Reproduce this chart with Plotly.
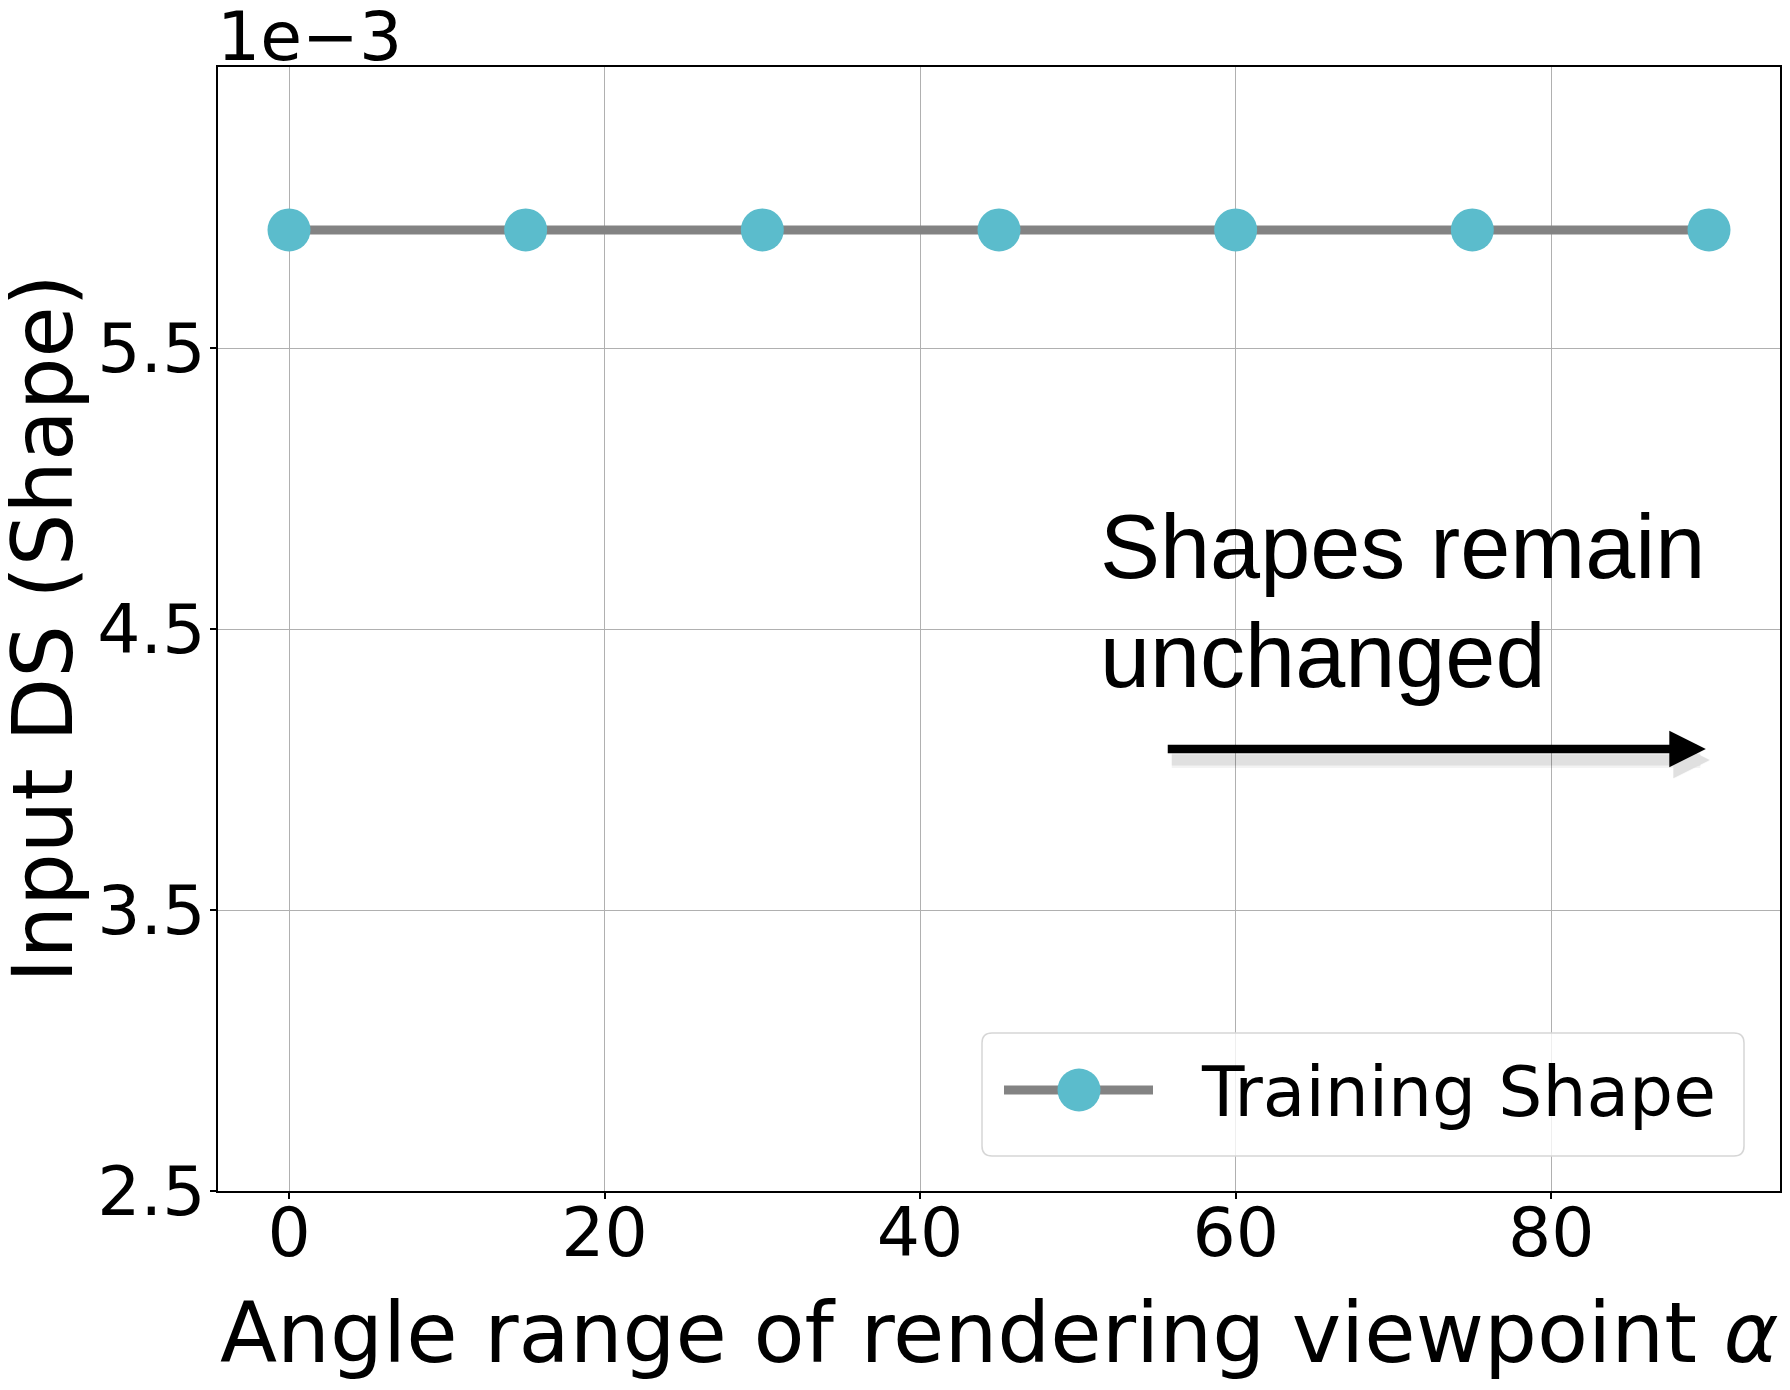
import plotly.graph_objects as go

# data
angles = [0, 15, 30, 45, 60, 75, 90]
input_ds = [0.00592, 0.00592, 0.00592, 0.00592, 0.00592, 0.00592, 0.00592]
series_name = 'Training Shape'

x_ticks = [0, 20, 40, 60, 80]
y_ticks = [0.0025, 0.0035, 0.0045, 0.0055]
y_tick_text = ['2.5', '3.5', '4.5', '5.5']
y_offset_text = '1e\u22123'

note_lines = ['Shapes remain', 'unchanged']
arrow_from = (55.6, 0.004073)
arrow_to = (89.8, 0.004073)

LINE_COLOR = '#838383'
MARKER_COLOR = '#5bbccc'
FONT = 'DejaVu Sans'

# the page body adds an 8px margin, so the figure is 8px smaller
PAGE_OFF = 8
W, H = 1790 - PAGE_OFF, 1390 - PAGE_OFF
# plot area in page pixels
X0, X1, Y0, Y1 = 218, 1780, 67, 1191
PW, PH = X1 - X0, Y1 - Y0


def px(x):
    return (x - X0) / PW


def py(y):
    return (Y1 - y) / PH


fig = go.Figure()
fig.add_trace(go.Scatter(
    x=angles, y=input_ds, mode='lines+markers', name=series_name,
    line=dict(color=LINE_COLOR, width=9),
    marker=dict(color=MARKER_COLOR, size=43),
    showlegend=False,
))

annotations = []

# offset text like matplotlib's scientific notation
annotations.append(dict(
    text=y_offset_text, xref='paper', yref='paper', x=px(215), y=py(36),
    xanchor='left', yanchor='middle', showarrow=False,
    font=dict(family=FONT, size=68, color='black'),
))

# axis titles
annotations.append(dict(
    text='Input DS (Shape)', xref='paper', yref='paper', x=px(43), y=0.5,
    xanchor='center', yanchor='middle', textangle=-90, showarrow=False,
    font=dict(family=FONT, size=83, color='black'),
))
annotations.append(dict(
    text='Angle range of rendering viewpoint <i>\u03b1</i>', xref='paper', yref='paper',
    x=0.5, y=py(1333), xanchor='center', yanchor='middle', showarrow=False,
    font=dict(family=FONT, size=83.5, color='black'),
))

# arrow with a soft shadow
for w, a in [(16, 0.05), (11, 0.08)]:
    annotations.append(dict(
        x=arrow_to[0], y=arrow_to[1], ax=arrow_from[0], ay=arrow_from[1],
        xref='x', yref='y', axref='x', ayref='y', text='', showarrow=True,
        arrowhead=2, arrowsize=7.3 / w, arrowwidth=w,
        arrowcolor='rgba(0,0,0,%s)' % a, xshift=4, yshift=-11, standoff=0,
    ))
annotations.append(dict(
    x=arrow_to[0], y=arrow_to[1], ax=arrow_from[0], ay=arrow_from[1],
    xref='x', yref='y', axref='x', ayref='y', text='', showarrow=True,
    arrowhead=2, arrowsize=7.3 / 8.5, arrowwidth=8.5, arrowcolor='black', standoff=0,
))

# note text
for line, ypix in zip(note_lines, [547, 656]):
    annotations.append(dict(
        text=line, xref='paper', yref='paper', x=px(1098), y=py(ypix),
        xanchor='left', yanchor='middle', showarrow=False,
        font=dict(family='Liberation Sans', size=90, color='black'),
    ))

# hand-made legend (matplotlib style)
lx0, lx1, ly0, ly1 = px(982), px(1744), py(1156), py(1033)
rx, ry = 10 / PW, 10 / PH
box_path = (
    f'M{lx0 + rx},{ly0} L{lx1 - rx},{ly0} Q{lx1},{ly0} {lx1},{ly0 + ry} '
    f'L{lx1},{ly1 - ry} Q{lx1},{ly1} {lx1 - rx},{ly1} '
    f'L{lx0 + rx},{ly1} Q{lx0},{ly1} {lx0},{ly1 - ry} '
    f'L{lx0},{ly0 + ry} Q{lx0},{ly0} {lx0 + rx},{ly0} Z'
)
shapes = [
    dict(type='path', path=box_path, xref='paper', yref='paper',
         line=dict(color='#d6d6d6', width=1.5), fillcolor='rgba(255,255,255,0.8)', layer='above'),
    dict(type='line', xref='paper', yref='paper', x0=px(1004), x1=px(1153), y0=py(1090), y1=py(1090),
         line=dict(color=LINE_COLOR, width=9), layer='above'),
    dict(type='circle', xref='paper', yref='paper', xsizemode='pixel', ysizemode='pixel',
         xanchor=px(1079), yanchor=py(1090), x0=-21.5, x1=21.5, y0=-21.5, y1=21.5,
         fillcolor=MARKER_COLOR, line=dict(width=0), layer='above'),
]
annotations.append(dict(
    text=series_name, xref='paper', yref='paper', x=px(1199), y=py(1091),
    xanchor='left', yanchor='middle', showarrow=False,
    font=dict(family=FONT, size=69.5, color='black'),
))

fig.update_layout(
    width=W, height=H, autosize=False,
    margin=dict(l=X0 - PAGE_OFF, r=1790 - X1, t=Y0 - PAGE_OFF, b=1390 - Y1, autoexpand=False),
    plot_bgcolor='white', paper_bgcolor='white',
    font=dict(family=FONT, color='black'),
    annotations=annotations, shapes=shapes,
    showlegend=False,
)
fig.update_xaxes(
    range=[-4.5, 94.5], tickvals=x_ticks, ticks='outside', ticklen=6, tickwidth=1.5,
    tickcolor='black', tickfont=dict(family=FONT, size=68), ticklabelstandoff=-25,
    showgrid=True, gridcolor='#b0b0b0', gridwidth=1.2, zeroline=False, automargin=False,
    showline=True, linecolor='black', linewidth=1.8, mirror=True,
)
fig.update_yaxes(
    range=[0.0025, 0.0065], tickvals=y_ticks, ticktext=y_tick_text, ticks='outside',
    ticklen=6, tickwidth=1.5, tickcolor='black', tickfont=dict(family=FONT, size=68),
    ticklabelstandoff=-9, automargin=False,
    showgrid=True, gridcolor='#b0b0b0', gridwidth=1.2, zeroline=False,
    showline=True, linecolor='black', linewidth=1.8, mirror=True,
)

fig.write_html('out.html')
